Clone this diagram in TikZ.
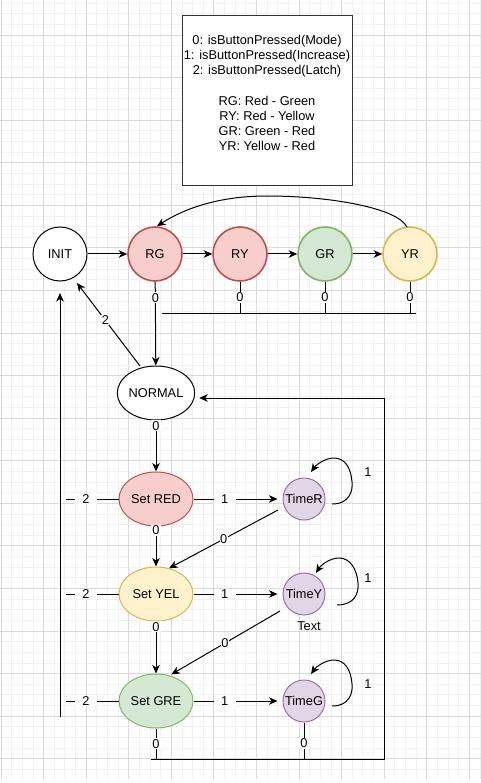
\documentclass[tikz,border=0pt]{standalone}
\usepackage{fontspec}
\setmainfont{Liberation Sans}
\usetikzlibrary{arrows.meta,calc,shapes.geometric}
\definecolor{redfill}{HTML}{F8CECC}
\definecolor{redline}{HTML}{B85450}
\definecolor{grnfill}{HTML}{D5E8D4}
\definecolor{grnline}{HTML}{82B366}
\definecolor{yelfill}{HTML}{FFF2CC}
\definecolor{yelline}{HTML}{D6B656}
\definecolor{purfill}{HTML}{E1D5E7}
\definecolor{purline}{HTML}{9673A6}
\definecolor{gridminor}{HTML}{F1F1F1}
\definecolor{gridmajor}{HTML}{DADADA}
\begin{document}
\begin{tikzpicture}[x=1pt,y=-1pt,
  font=\fontsize{12.8}{15.2}\selectfont,
  state/.style={circle,draw,line width=1pt,minimum size=54pt,inner sep=0pt},
  cstate/.style={state,line width=1.6pt},
  ell/.style={ellipse,draw,line width=1pt,minimum width=74pt,minimum height=54pt,inner sep=0pt},
  timer/.style={circle,draw=purline,fill=purfill,line width=1pt,minimum size=42pt,inner sep=0pt},
  edge/.style={line width=1pt,-{Stealth[length=8.5pt,width=7.5pt,inset=2.5pt]}},
  plain/.style={line width=1pt},
  lblh/.style={fill=white,inner xsep=7.5pt,inner ysep=1pt},
  lblv/.style={fill=white,inner sep=1pt},
  lbld/.style={fill=white,inner sep=0.5pt}
]
\useasboundingbox (0,0) rectangle (481,783);
\fill[white] (0,0) rectangle (481,783);
% grid
\foreach \i in {0,...,45} {\draw[gridminor,line width=0.8pt] ({1+\i*10.643},0) -- ({1+\i*10.643},779);}
\foreach \j in {0,...,72} {\draw[gridminor,line width=0.8pt] (0,{3.07+\j*10.643}) -- (481,{3.07+\j*10.643});}
\foreach \i in {0,4,...,44} {\draw[gridmajor,line width=0.8pt] ({1+\i*10.643},0) -- ({1+\i*10.643},779);}
\foreach \j in {3,7,...,71} {\draw[gridmajor,line width=0.8pt] (0,{3.07+\j*10.643}) -- (481,{3.07+\j*10.643});}

% legend
\node[draw=black!80,fill=white,line width=1pt,minimum width=170pt,minimum height=170pt,inner sep=0pt] (legend) at (267,101) {};
\node[align=center,inner sep=0pt] (legendtxt) at (267,93) {0: isButtonPressed(Mode)\\1: isButtonPressed(Increase)\\2: isButtonPressed(Latch)\\[15.2pt]RG: Red - Green\\RY: Red - Yellow\\GR: Green - Red\\YR: Yellow - Red};

% states
\node[state,fill=white] (INIT) at (60,254) {INIT};
\node[cstate,draw=redline,fill=redfill] (RG) at (155,254) {RG};
\node[cstate,draw=redline,fill=redfill] (RY) at (240,254) {RY};
\node[cstate,draw=grnline,fill=grnfill] (GR) at (325,254) {GR};
\node[cstate,draw=yelline,fill=yelfill] (YR) at (410,254) {YR};
\node[ell,fill=white] (NORMAL) at (156,393) {NORMAL};
\node[ell,draw=redline,fill=redfill] (SetRED) at (156,499) {Set RED};
\node[ell,draw=yelline,fill=yelfill] (SetYEL) at (156,594) {Set YEL};
\node[ell,draw=grnline,fill=grnfill] (SetGRE) at (156,701) {Set GRE};
\node[timer] (TimeR) at (304,499) {TimeR};
\node[timer] (TimeY) at (304,594) {TimeY};
\node[timer] (TimeG) at (304,701) {TimeG};
\node (txt) at (309,626) {Text};

% top row
\draw[edge] (INIT) -- (RG);
\draw[edge] (RG) -- (RY);
\draw[edge] (RY) -- (GR);
\draw[edge] (GR) -- (YR);
\draw[edge] ($(YR.north)+(-3,1)$) .. controls (398,208) and (330,196) .. (267,196) .. controls (220,196) and (185,208) .. ($(RG.north)+(2,0)$);

\coordinate (b1) at (240,313);
\coordinate (b2) at (325,313);
\coordinate (b3) at (410,313);
\coordinate (bl) at (162,313);
\coordinate (br) at (416,313);
\draw[edge] (RG) -- node[lblv,pos=0.19]{0} (NORMAL);
\draw[plain] (RY) -- node[lblv]{0} (b1);
\draw[plain] (GR) -- node[lblv]{0} (b2);
\draw[plain] (YR) -- node[lblv]{0} (b3);
\draw[plain] (bl) -- (br);

% NORMAL -> INIT
\draw[edge] ($(NORMAL)+(-16,-27)$) -- node[lbld,pos=0.55]{2} ($(INIT)+(17,29)$);
\coordinate (lb) at (60,717);
\coordinate (lt) at (60,293);
\draw[edge] (lb) -- (lt);

% vertical chain
\draw[edge] (NORMAL) -- node[lblv,pos=0.1]{0} (SetRED);
\draw[edge] (SetRED) -- node[lblv,pos=0.1]{0} (SetYEL);
\draw[edge] (SetYEL) -- node[lblv,pos=0.1]{0} (SetGRE);

% to timers
\draw[edge,shorten >=5pt] (SetRED) -- node[lblh,pos=0.35]{1} (TimeR);
\draw[edge,shorten >=5pt] (SetYEL) -- node[lblh,pos=0.35]{1} (TimeY);
\draw[edge,shorten >=5pt] (SetGRE) -- node[lblh,pos=0.35]{1} (TimeG);

% left "2" lines
\coordinate (l1) at (66,499);
\coordinate (l2) at (66,594);
\coordinate (l3) at (66,701);
\draw[plain] (SetRED) -- node[lblh,pos=0.62]{2} (l1);
\draw[plain] (SetYEL) -- node[lblh,pos=0.62]{2} (l2);
\draw[plain] (SetGRE) -- node[lblh,pos=0.62]{2} (l3);

% self loops
\draw[edge,shift={(TimeR)}] (28,5) .. controls (46,5) and (49,-9) .. (48,-17) .. controls (47,-31) and (41,-41) .. (30,-41) .. controls (21,-41) and (12,-34) .. (7,-27);
\draw[edge,shift={(TimeY)}] (33,11) .. controls (50,11) and (55,0) .. (54,-11) .. controls (53,-25) and (46,-36) .. (35,-36) .. controls (26,-36) and (17,-29) .. (12,-21);
\draw[edge,shift={(TimeG)}] (28,5) .. controls (46,5) and (49,-9) .. (48,-17) .. controls (47,-31) and (41,-41) .. (30,-41) .. controls (21,-41) and (12,-34) .. (7,-27);
\node (loopR) at (368,472) {1};
\node (loopY) at (368,578) {1};
\node (loopG) at (368,684) {1};

% timers back
\draw[edge] ($(TimeR)+(-26,11)$) -- node[lbld]{0} (SetYEL.63);
\draw[edge,shorten >=2pt] ($(TimeY)+(-24,17)$) -- node[lbld]{0} (SetGRE.62);

% bottom return
\coordinate (g1) at (156,759);
\coordinate (g2) at (304,759);
\coordinate (gL) at (151,759);
\coordinate (gR) at (384,759);
\coordinate (gT) at (384,398);
\draw[plain] (SetGRE) -- node[lblv]{0} (g1);
\draw[plain] (TimeG) -- node[lblv,pos=0.57]{0} (g2);
\draw[edge,shorten >=4pt] (gL) -- (gR) -- (gT) -- (gT -| NORMAL.east);
\end{tikzpicture}
\end{document}
